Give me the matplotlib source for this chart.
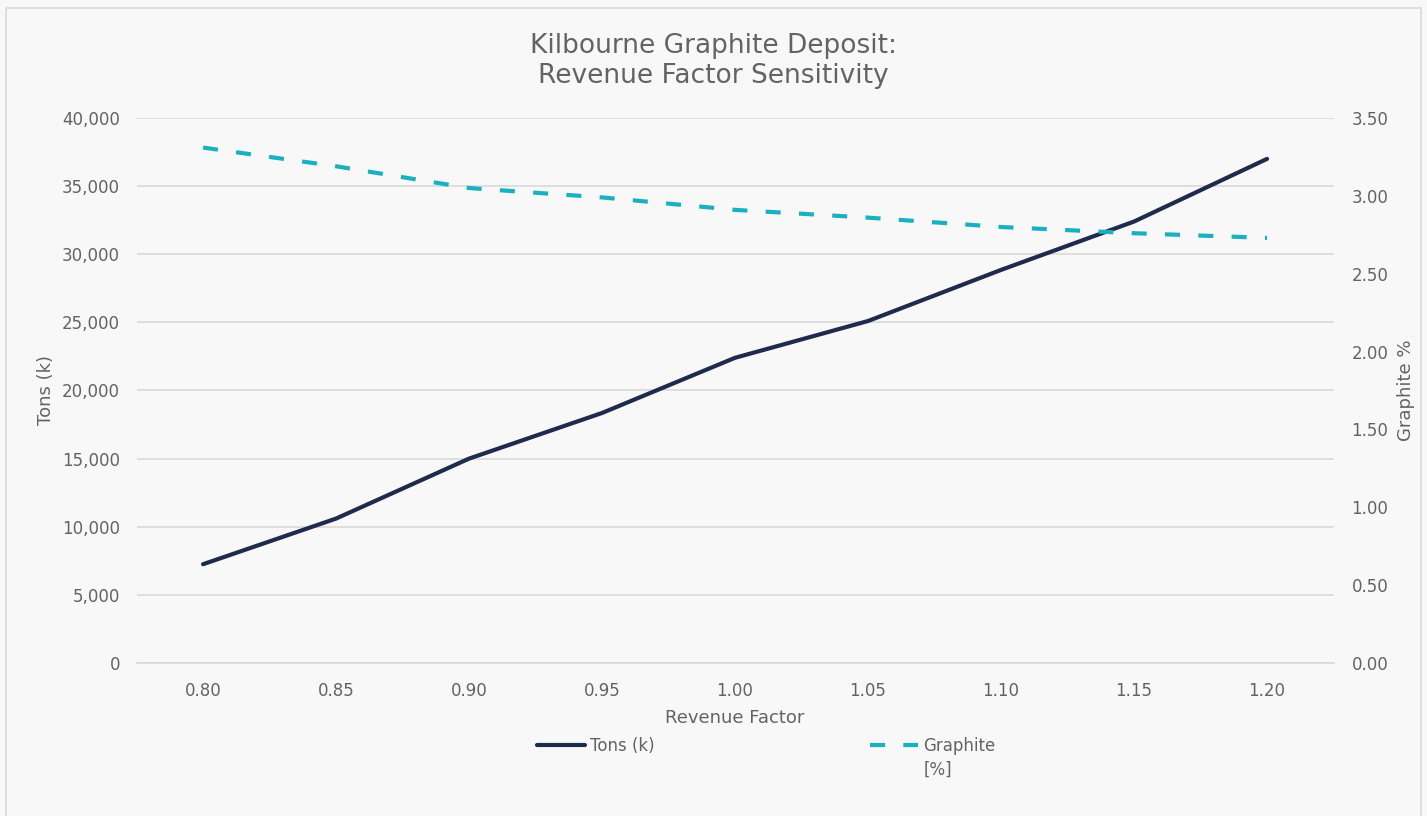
import numpy as np
import matplotlib.pyplot as plt
from matplotlib.patches import Rectangle

plt.rcParams['font.family'] = ['DejaVu Sans']

revenue_factor = ['0.80', '0.85', '0.90', '0.95', '1.00', '1.05', '1.10', '1.15', '1.20']
tons_k = [7250, 10600, 15000, 18350, 22400, 25100, 28850, 32400, 37000]
graphite_pct = [3.31, 3.19, 3.05, 2.99, 2.91, 2.86, 2.80, 2.76, 2.73]

navy = '#1e2b4d'
teal = '#19b0bf'
grey_txt = '#636363'
grid_c = '#d9d9d9'

fig = plt.figure(figsize=(14.27, 8.16), dpi=100, facecolor='#f8f8f8')
# outer chart border
fig.patches.append(Rectangle((6 / 1427, -0.01), 1415 / 1427, 1 - 8 / 816 + 0.01,
                             transform=fig.transFigure, fill=False,
                             edgecolor=grid_c, linewidth=1.2))

ax = fig.add_axes([0.0957, 0.1875, 0.8388, 0.6679])
ax.set_facecolor('#f8f8f8')
ax2 = ax.twinx()

x = np.arange(len(revenue_factor))
l1, = ax.plot(x, tons_k, color=navy, linewidth=3, solid_capstyle='round', label='Tons (k)')
l2, = ax2.plot(x, graphite_pct, color=teal, linewidth=3, dashes=(3.6, 4.4),
               dash_capstyle='butt', label='Graphite')

ax.set_xlim(-0.5, len(x) - 0.5)
ax.set_ylim(0, 40000)
ax.set_yticks(range(0, 40001, 5000))
ax.set_yticklabels([f'{v:,}' for v in range(0, 40001, 5000)])
ax2.set_ylim(0, 3.5)
ax2.set_yticks(np.arange(0, 3.51, 0.5))
ax2.set_yticklabels([f'{v:.2f}' for v in np.arange(0, 3.51, 0.5)])
ax.set_xticks(x)
ax.set_xticklabels(revenue_factor)

ax.grid(axis='y', color=grid_c, linewidth=1.2)
ax.set_axisbelow(True)
for a in (ax, ax2):
    for s in a.spines.values():
        s.set_visible(False)
    a.tick_params(length=0, labelsize=12, colors=grey_txt)
ax.spines['bottom'].set_visible(True)
ax.spines['bottom'].set_color(grid_c)
ax.spines['bottom'].set_linewidth(1.2)
ax.tick_params(axis='x', pad=14)
ax.tick_params(axis='y', pad=12)
ax2.tick_params(axis='y', pad=13)

ax.set_xlabel('Revenue Factor', fontsize=13, color=grey_txt, labelpad=6)
ax.set_ylabel('Tons (k)', fontsize=13, color=grey_txt, labelpad=5)
ax2.set_ylabel('Graphite %', fontsize=13, color=grey_txt, labelpad=6)

fig.text(0.5, 1 - 33 / 816, 'Kilbourne Graphite Deposit:\nRevenue Factor Sensitivity',
         fontsize=19, color=grey_txt, ha='center', va='top', linespacing=1.2)

leg = fig.legend([l1, l2], ['Tons (k)', 'Graphite'], loc='center left',
                 bbox_to_anchor=(537 / 1427, 1 - 746 / 816), ncol=2, frameon=False,
                 fontsize=12, labelcolor=grey_txt, handlelength=2.9, handletextpad=0.3,
                 columnspacing=12.9, borderpad=0, borderaxespad=0)

# second line of the Graphite legend label
fig.canvas.draw()
bb = leg.get_texts()[1].get_window_extent().transformed(fig.transFigure.inverted())
fig.text(bb.x0, bb.y0 - 6 / 816, '[%]', fontsize=12, color=grey_txt, ha='left', va='top')

fig.savefig('out.png', dpi=100, facecolor=fig.get_facecolor())
